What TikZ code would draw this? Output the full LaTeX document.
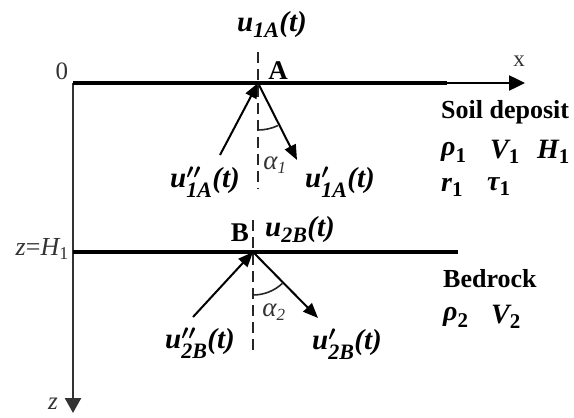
\documentclass[tikz,border=0pt]{standalone}
\usepackage{amsmath}
\usepackage{fontspec}
\setmainfont{Liberation Serif}
\usetikzlibrary{arrows.meta}
\newcommand\ulab[2]{$\text{u}#1_{\text{\fontsize{22}{22}\selectfont #2}}\text{(t)}$}
\newcommand\plab[2]{$\text{#1}_{\text{\fontsize{21}{21}\selectfont\upshape #2}}$}
\begin{document}
\begin{tikzpicture}[x=1pt,y=-1pt,
  lbl/.style={inner sep=0pt,font=\fontsize{29}{33}\selectfont\bfseries\itshape\boldmath},
  prop/.style={inner sep=0pt,anchor=west,font=\fontsize{28}{32}\selectfont\bfseries\itshape\boldmath},
  layername/.style={inner sep=0pt,anchor=west,font=\fontsize{26}{30}\selectfont\bfseries},
  axlbl/.style={inner sep=0pt,font=\fontsize{25}{28}\selectfont,text=black!80},
  anglbl/.style={inner sep=0pt,font=\fontsize{27}{30}\selectfont\itshape,text=black!80},
  ptlbl/.style={inner sep=0pt,font=\fontsize{27}{30}\selectfont\bfseries},
  surface/.style={line width=4pt,black},
  axis/.style={line width=2.5pt,black!80,-{Triangle[length=15pt,width=16pt]}},
  wave/.style={line width=2pt,black,-{Triangle[length=15pt,width=12pt]}},
  normalline/.style={line width=2pt,black!85,dash pattern=on 11pt off 6pt},
  anglearc/.style={line width=1.6pt,black!85}]
\useasboundingbox (0,0) rectangle (574,418);
% coordinates
\coordinate (O) at (73,83);
\coordinate (Tmid) at (447,83);
\coordinate (Xend) at (525,83);
\coordinate (Zend) at (73,413);
\coordinate (L2start) at (73,252);
\coordinate (L2end) at (458,252);
\coordinate (A) at (258,83);
\coordinate (B) at (253,252);
\coordinate (Atop) at (258,52);
\coordinate (Abot) at (258,189);
\coordinate (Btop) at (253,220);
\coordinate (Bbot) at (253,351);
\coordinate (Ain) at (220,155);
\coordinate (Aout) at (297,160);
\coordinate (Bin) at (193,317);
\coordinate (Bout) at (318,318);
% axes and interfaces
\draw[axis] (O) -- (Zend);
\draw[surface] (O) -- (Tmid);
\draw[line width=2.5pt,-{Triangle[length=16pt,width=15pt]}] (Tmid) -- (Xend);
\draw[surface] (L2start) -- (L2end);
% normals
\draw[normalline] (Atop) -- (Abot);
\draw[normalline] (Btop) -- (Bbot);
% waves
\draw[wave] (Ain) -- (A);
\draw[wave] (A) -- (Aout);
\draw[wave] (Bin) -- (B);
\draw[wave] (B) -- (Bout);
% angle arcs
\draw[anglearc] ([shift={(270:47pt)}]A) arc[start angle=270,end angle=295,radius=47pt];
\draw[anglearc] ([shift={(270:43pt)}]B) arc[start angle=270,end angle=313,radius=43pt];
% labels
\node[axlbl] (l0) at (62,71) {0};
\node[axlbl,font=\fontsize{23}{26}\selectfont] (lx) at (519,61) {x};
\node[axlbl,font=\fontsize{25}{26}\selectfont\itshape] (lz) at (53,404) {z};
\node[axlbl,anchor=east,font=\fontsize{26}{28}\selectfont] (lzh) at (69,249) {\itshape z\upshape=\itshape H$_{\text{\fontsize{18}{18}\selectfont\upshape 1}}$};
\node[ptlbl] (lA) at (278,71) {A};
\node[ptlbl] (lB) at (240,233) {B};
\node[lbl] (u1A) at (272,25) {\ulab{}{1A}};
\node[lbl] (u1Ai) at (205,182) {\ulab{''}{1A}};
\node[lbl] (u1Ar) at (340,182) {\ulab{'}{1A}};
\node[lbl] (u2B) at (300,230) {\ulab{}{2B}};
\node[lbl] (u2Bi) at (200,343) {\ulab{''}{2B}};
\node[lbl] (u2Br) at (347,344) {\ulab{'}{2B}};
\node[anglbl] (a1) at (275,165) {$\text{α}_{\text{\fontsize{17}{17}\selectfont 1}}$};
\node[anglbl] (a2) at (274,312) {$\text{α}_{\text{\fontsize{17}{17}\selectfont 2}}$};
% soil deposit
\node[layername] (soil) at (441,112) {Soil deposit};
\node[prop] (rho1) at (441,152) {\plab{ρ}{1}};
\node[prop] (V1) at (490,152) {\plab{V}{1}};
\node[prop] (H1) at (537,152) {\plab{H}{1}};
\node[prop] (r1) at (441,187) {\plab{r}{1}};
\node[prop] (tau1) at (487,187) {\plab{τ}{1}};
% bedrock
\node[layername] (bed) at (443,279) {Bedrock};
\node[prop] (rho2) at (443,317) {\plab{ρ}{2}};
\node[prop] (V2) at (491,317) {\plab{V}{2}};
\end{tikzpicture}
\end{document}
